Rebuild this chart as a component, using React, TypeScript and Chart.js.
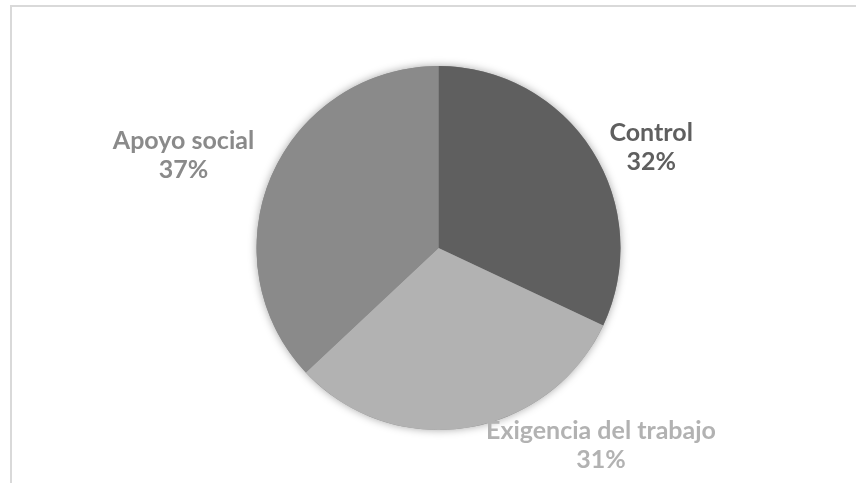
import React, { useEffect, useRef } from "react";
import { Chart, registerables } from "chart.js";

Chart.register(...registerables);

const categories = ["Control", "Exigencia del trabajo", "Apoyo social"];
const values = [32, 31, 37];
const sliceColors = ["#5f5f5f", "#b2b2b2", "#8a8a8a"];
// label block offsets from the arc's outer mid point (layout only)
const labelOffsets = [
  [59, -3],
  [134, 18],
  [-88, -20],
];

const FONT = "bold 25px Lato, 'Open Sans', sans-serif";
const LINE_H = 29;

const framePlugin = {
  id: "frame",
  beforeDraw(chart: any) {
    const ctx = chart.ctx;
    ctx.save();
    ctx.strokeStyle = "#d9d9d9";
    ctx.lineWidth = 2;
    ctx.beginPath();
    ctx.moveTo(chart.width, 6);
    ctx.lineTo(11, 6);
    ctx.lineTo(11, chart.height);
    ctx.stroke();
    ctx.restore();
  },
};

const shadowPlugin = {
  id: "pieShadow",
  beforeDatasetsDraw(chart: any) {
    const meta = chart.getDatasetMeta(0);
    const arc = meta.data[0];
    if (!arc) return;
    const { x, y, outerRadius } = arc.getProps(["x", "y", "outerRadius"], true);
    const ctx = chart.ctx;
    ctx.save();
    ctx.shadowColor = "rgba(0,0,0,0.35)";
    ctx.shadowBlur = 9;
    ctx.fillStyle = "#8a8a8a";
    ctx.beginPath();
    ctx.arc(x, y, outerRadius, 0, Math.PI * 2);
    ctx.fill();
    ctx.restore();
  },
};

const labelPlugin = {
  id: "pieLabels",
  afterDatasetsDraw(chart: any) {
    const meta = chart.getDatasetMeta(0);
    const ctx = chart.ctx;
    const total = values.reduce((a, b) => a + b, 0);
    ctx.save();
    ctx.font = FONT;
    ctx.textAlign = "center";
    ctx.textBaseline = "middle";
    meta.data.forEach((arc: any, i: number) => {
      const { x, y, startAngle, endAngle, outerRadius } = arc.getProps(
        ["x", "y", "startAngle", "endAngle", "outerRadius"],
        true
      );
      const mid = (startAngle + endAngle) / 2;
      const ex = x + Math.cos(mid) * outerRadius;
      const ey = y + Math.sin(mid) * outerRadius;
      const cx = ex + labelOffsets[i][0];
      const cy = ey + labelOffsets[i][1];
      const pct = Math.round((values[i] / total) * 100) + "%";
      ctx.fillStyle = sliceColors[i];
      ctx.fillText(categories[i], cx, cy - LINE_H / 2);
      ctx.fillText(pct, cx, cy + LINE_H / 2);
    });
    ctx.restore();
  },
};

export default function App() {
  const ref = useRef<HTMLCanvasElement>(null);
  useEffect(() => {
    if (!ref.current) return;
    const chart = new Chart(ref.current, {
      type: "pie",
      data: {
        labels: categories,
        datasets: [
          {
            data: values,
            backgroundColor: sliceColors,
            borderWidth: 0,
          },
        ],
      },
      options: {
        animation: false,
        responsive: false,
        layout: { padding: { top: 66, bottom: 53, left: 256.5, right: 235.5 } },
        plugins: {
          legend: { display: false },
          tooltip: { enabled: false },
        },
      },
      plugins: [framePlugin, shadowPlugin, labelPlugin],
    });
    return () => chart.destroy();
  }, []);
  return (
    <div style={{ position: "absolute", left: 0, top: 0, width: 856, height: 483, background: "#fff" }}>
      <canvas ref={ref} width={856} height={483} style={{ width: 856, height: 483, display: "block" }} />
    </div>
  );
}
